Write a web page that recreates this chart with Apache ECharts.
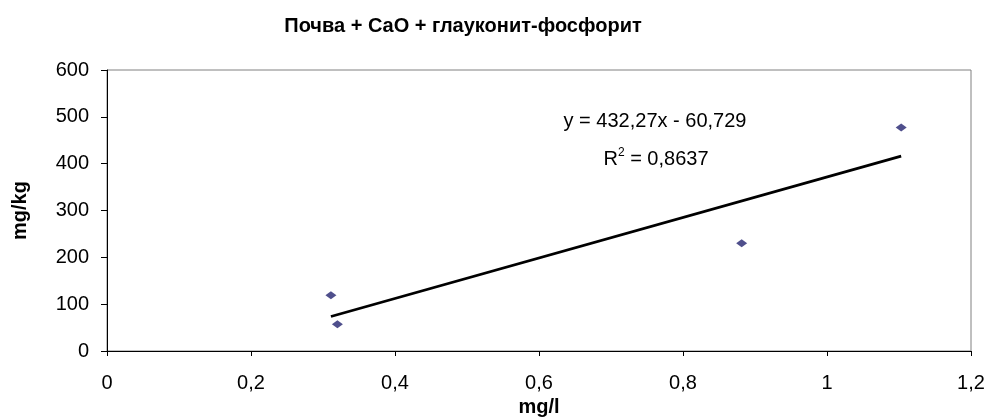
<!DOCTYPE html>
<html>
<head>
<meta charset="utf-8">
<script src="https://cdn.jsdelivr.net/npm/echarts@6/dist/echarts.min.js"></script>
<style>
  html, body { margin: 0; padding: 0; background: #fff; }
  #chart { width: 989px; height: 418px; }
</style>
</head>
<body>
<div id="chart"></div>
<script>
// Measured concentrations (mg/l) and sorbed amounts (mg/kg)
const xValues = [0.311, 0.320, 0.8815, 1.103];
const yValues = [119, 57, 230, 477];

// Linear trend coefficients as stated on the chart
const slope = 432.27;
const intercept = -60.729;
const rSquared = 0.8637;

const titleText = 'Почва + СаО + глауконит-фосфорит';
const xAxisName = 'mg/l';
const yAxisName = 'mg/kg';

const fmt = (v, d) => v.toFixed(d).replace('.', ',');

const points = xValues.map((x, i) => [x, yValues[i]]);
const xMin = Math.min(...xValues);
const xMax = Math.max(...xValues);
const trend = [[xMin, slope * xMin + intercept], [xMax, slope * xMax + intercept]];

const font = '"Liberation Sans", Arial, sans-serif';

const chart = echarts.init(document.getElementById('chart'), null, { renderer: 'canvas' });
chart.setOption({
  animation: false,
  backgroundColor: '#ffffff',
  textStyle: { fontFamily: font },
  title: {
    text: titleText,
    left: 458,
    top: 11,
    textAlign: 'center',
    textStyle: { fontFamily: font, fontSize: 20, fontWeight: 'bold', color: '#000' }
  },
  grid: {
    left: 107, right: 18, top: 70, bottom: 67,
    outerBoundsMode: 'none',
    containLabel: false,
    show: true, borderColor: '#808080', borderWidth: 1
  },
  xAxis: {
    type: 'value',
    min: 0, max: 1.2, interval: 0.2,
    name: xAxisName,
    nameLocation: 'middle',
    nameGap: 46,
    nameTextStyle: { fontFamily: font, fontSize: 20, fontWeight: 'bold', color: '#000' },
    axisLine: { show: true, lineStyle: { color: '#000', width: 1 } },
    axisTick: { show: true, length: 5, inside: false, lineStyle: { color: '#000' } },
    axisLabel: {
      fontFamily: font, fontSize: 20, color: '#000', margin: 22,
      formatter: v => String(Math.round(v * 10) / 10).replace('.', ',')
    },
    splitLine: { show: false }
  },
  yAxis: {
    type: 'value',
    min: 0, max: 600, interval: 100,
    name: yAxisName,
    nameLocation: 'middle',
    nameGap: 77,
    nameTextStyle: { fontFamily: font, fontSize: 20, fontWeight: 'bold', color: '#000' },
    axisLine: { show: true, lineStyle: { color: '#000', width: 1 } },
    axisTick: { show: true, length: 6, inside: false, lineStyle: { color: '#000' } },
    axisLabel: { fontFamily: font, fontSize: 20, color: '#000', margin: 18 },
    splitLine: { show: false }
  },
  series: [
    {
      type: 'line',
      data: trend,
      showSymbol: false,
      symbol: 'none',
      lineStyle: { color: '#000', width: 2.8 },
      z: 2
    },
    {
      type: 'scatter',
      data: points,
      symbol: 'diamond',
      symbolSize: [11, 8],
      itemStyle: { color: '#23236f' },
      z: 3
    }
  ],
  graphic: [
    {
      type: 'text',
      x: 655,
      y: 121,
      style: {
        text: 'y = ' + fmt(slope, 2) + 'x - ' + fmt(-intercept, 3),
        font: '20px ' + font,
        fill: '#000',
        align: 'center',
        verticalAlign: 'middle'
      }
    },
    {
      type: 'text',
      x: 656,
      y: 158,
      style: {
        text: '{r|R}{s|2}{r| = ' + fmt(rSquared, 4) + '}',
        align: 'center',
        verticalAlign: 'middle',
        rich: {
          r: { font: '20px ' + font, fill: '#000', verticalAlign: 'bottom' },
          s: { font: '12px ' + font, fill: '#000', verticalAlign: 'top', padding: [0, 0, 10, 0] }
        }
      }
    }
  ]
});
</script>
</body>
</html>
